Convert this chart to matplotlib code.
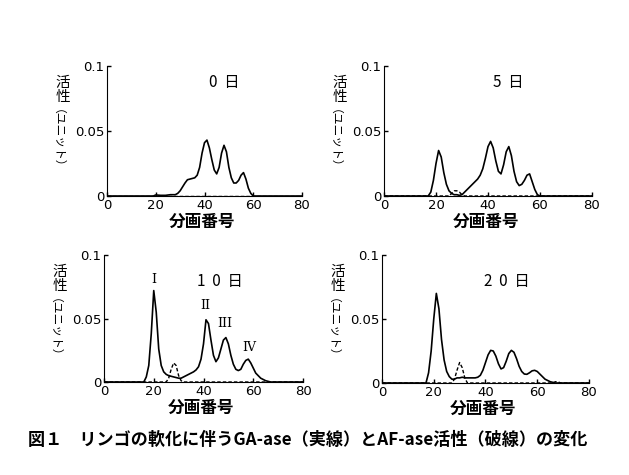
import matplotlib
matplotlib.use("Agg")
import matplotlib.pyplot as plt

plt.rcParams["font.family"] = ["Noto Sans CJK JP", "DejaVu Sans"]

# fraction number -> activity (unit); solid = GA-ase, dashed = AF-ase
d0_x = [0, 19, 20, 22, 24, 26, 28, 29, 30, 31, 32, 33, 34, 35, 36, 37, 38, 39, 40, 41,
        42, 43, 44, 45, 46, 47, 48, 49, 50, 51, 52, 53, 54, 55, 56, 57, 58, 59, 60, 80]
d0_ga = [0, 0, 0.0008, 0.0005, 0.0005, 0.001, 0.001, 0.002, 0.004, 0.007, 0.010, 0.0125,
         0.013, 0.0135, 0.014, 0.016, 0.022, 0.033, 0.041, 0.043, 0.037, 0.028, 0.020,
         0.017, 0.022, 0.033, 0.039, 0.034, 0.022, 0.014, 0.010, 0.010, 0.012, 0.016,
         0.018, 0.013, 0.006, 0.002, 0, 0]
d0_af_x = [0, 80]
d0_af = [0, 0]

d5_x = [0, 17, 18, 19, 20, 21, 22, 23, 24, 25, 26, 27, 28, 29, 30, 31, 32, 33, 34, 35,
        36, 37, 38, 39, 40, 41, 42, 43, 44, 45, 46, 47, 48, 49, 50, 51, 52, 53, 54, 55,
        56, 57, 58, 59, 60, 80]
d5_ga = [0, 0, 0.003, 0.012, 0.025, 0.035, 0.030, 0.018, 0.009, 0.004, 0.002, 0.001,
         0.001, 0.0005, 0.001, 0.003, 0.005, 0.007, 0.009, 0.011, 0.013, 0.016, 0.021,
         0.029, 0.038, 0.042, 0.037, 0.027, 0.019, 0.017, 0.024, 0.034, 0.038, 0.031,
         0.019, 0.011, 0.008, 0.009, 0.012, 0.016, 0.017, 0.011, 0.005, 0.001, 0, 0]
d5_af_x = [0, 25, 26, 27, 28, 29, 30, 31, 80]
d5_af = [0, 0, 0.002, 0.004, 0.004, 0.003, 0.001, 0, 0]

d10_x = [0, 16, 17, 18, 19, 20, 21, 22, 23, 24, 25, 26, 27, 28, 29, 30, 31, 32, 33, 34,
         35, 36, 37, 38, 39, 40, 41, 42, 43, 44, 45, 46, 47, 48, 49, 50, 51, 52, 53, 54,
         55, 56, 57, 58, 59, 60, 61, 62, 63, 64, 65, 66, 67, 80]
d10_ga = [0, 0, 0.004, 0.013, 0.038, 0.072, 0.055, 0.026, 0.013, 0.008, 0.006, 0.005,
          0.0045, 0.004, 0.0035, 0.003, 0.003, 0.004, 0.005, 0.006, 0.007, 0.008, 0.0095,
          0.012, 0.018, 0.030, 0.049, 0.046, 0.033, 0.021, 0.016, 0.019, 0.026, 0.033,
          0.035, 0.030, 0.021, 0.014, 0.010, 0.009, 0.010, 0.014, 0.017, 0.018, 0.015,
          0.011, 0.007, 0.005, 0.003, 0.002, 0.001, 0.0005, 0, 0]
d10_af_x = [0, 25, 26, 27, 28, 29, 30, 31, 32, 80]
d10_af = [0, 0, 0.003, 0.010, 0.015, 0.013, 0.005, 0.001, 0, 0]

d20_x = [0, 17, 18, 19, 20, 21, 22, 23, 24, 25, 26, 27, 28, 29, 30, 31, 32, 33, 34, 35,
         36, 37, 38, 39, 40, 41, 42, 43, 44, 45, 46, 47, 48, 49, 50, 51, 52, 53, 54, 55,
         56, 57, 58, 59, 60, 61, 62, 63, 64, 65, 66, 67, 80]
d20_ga = [0, 0, 0.008, 0.025, 0.050, 0.070, 0.058, 0.034, 0.018, 0.009, 0.005, 0.003,
          0.003, 0.004, 0.004, 0.0045, 0.004, 0.004, 0.004, 0.004, 0.004, 0.0045, 0.006,
          0.010, 0.016, 0.022, 0.0255, 0.025, 0.021, 0.015, 0.011, 0.012, 0.017, 0.023,
          0.0255, 0.024, 0.019, 0.013, 0.009, 0.007, 0.0068, 0.008, 0.0095, 0.0099,
          0.009, 0.007, 0.005, 0.003, 0.002, 0.001, 0.0005, 0, 0]
d20_af_x = [0, 27, 28, 29, 30, 31, 32, 33, 66, 67, 68, 69, 80]
d20_af = [0, 0, 0.003, 0.010, 0.016, 0.012, 0.004, 0, 0, 0.001, 0.001, 0, 0]

titles = ["0  日", "5  日", "1  0  日", "2  0  日"]
peak_labels = ["I", "II", "III", "IV"]
peak_x = [20, 40.8, 48.5, 58.3]
peak_y = [0.081, 0.060, 0.046, 0.027]

W, H = 629, 475
fig = plt.figure(figsize=(W / 100, H / 100), dpi=100)

# axes boxes in pixels: left, right, top(y=0.1), bottom(y=0)
boxes = [(107, 302, 66, 196), (384, 592, 66, 196),
         (104, 303, 255, 382), (382, 589, 255, 383)]
panels = [(d0_x, d0_ga, d0_af_x, d0_af), (d5_x, d5_ga, d5_af_x, d5_af),
          (d10_x, d10_ga, d10_af_x, d10_af), (d20_x, d20_ga, d20_af_x, d20_af)]
title_pos = [(48, 0.087), (47.7, 0.087), (46.6, 0.079), (48.3, 0.079)]

for i, (box, data) in enumerate(zip(boxes, panels)):
    l, r, t, b = box
    ax = fig.add_axes([l / W, 1 - b / H, (r - l) / W, (b - t) / H])
    x, ga, afx, af = data
    ax.plot(afx, af, color="black", lw=1.0, ls=(0, (2.5, 1.5)))
    ax.plot(x, ga, color="black", lw=1.2)
    ax.set_xlim(0, 80)
    ax.set_ylim(0, 0.1)
    ax.set_xticks([0, 20, 40, 60, 80])
    ax.set_yticks([0, 0.05, 0.1])
    ax.set_yticklabels(["0", "0.05", "0.1"])
    ax.tick_params(direction="in", length=3, width=1, labelsize=9.5, pad=2)
    for lab in ax.get_xticklabels() + ax.get_yticklabels():
        lab.set_family("DejaVu Sans")
    ax.spines["top"].set_visible(False)
    ax.spines["right"].set_visible(False)
    ax.patch.set_alpha(0)
    tx, ty = title_pos[i]
    ax.text(tx, ty, titles[i], ha="center", va="center", fontsize=11)
    if i == 2:
        for lab, px, py in zip(peak_labels, peak_x, peak_y):
            ax.text(px, py, lab, ha="center", va="center", fontsize=9,
                    family="DejaVu Serif")
    # y label: 活性 upright, (ユニット) rotated
    fig.text((l - 44) / W, 1 - (t + 10) / H, "活\n性", ha="center", va="top",
             fontsize=10.5, linespacing=1.0)
    fig.text((l - 56) / W, 1 - (t + 78) / H, "（ユニット）", ha="center", va="center",
             fontsize=8.5, rotation=270)
    fig.text(((l + r) / 2 - 2) / W, 1 - (b + 26) / H, "分画番号", ha="center",
             va="center", fontsize=12, weight="bold")

fig.text(28 / W, 1 - 440 / H,
         "図１　リンゴの軟化に伴うGA-ase（実線）とAF-ase活性（破線）の変化",
         ha="left", va="center", fontsize=12.3, weight="bold")

fig.savefig("out.png", dpi=100)
